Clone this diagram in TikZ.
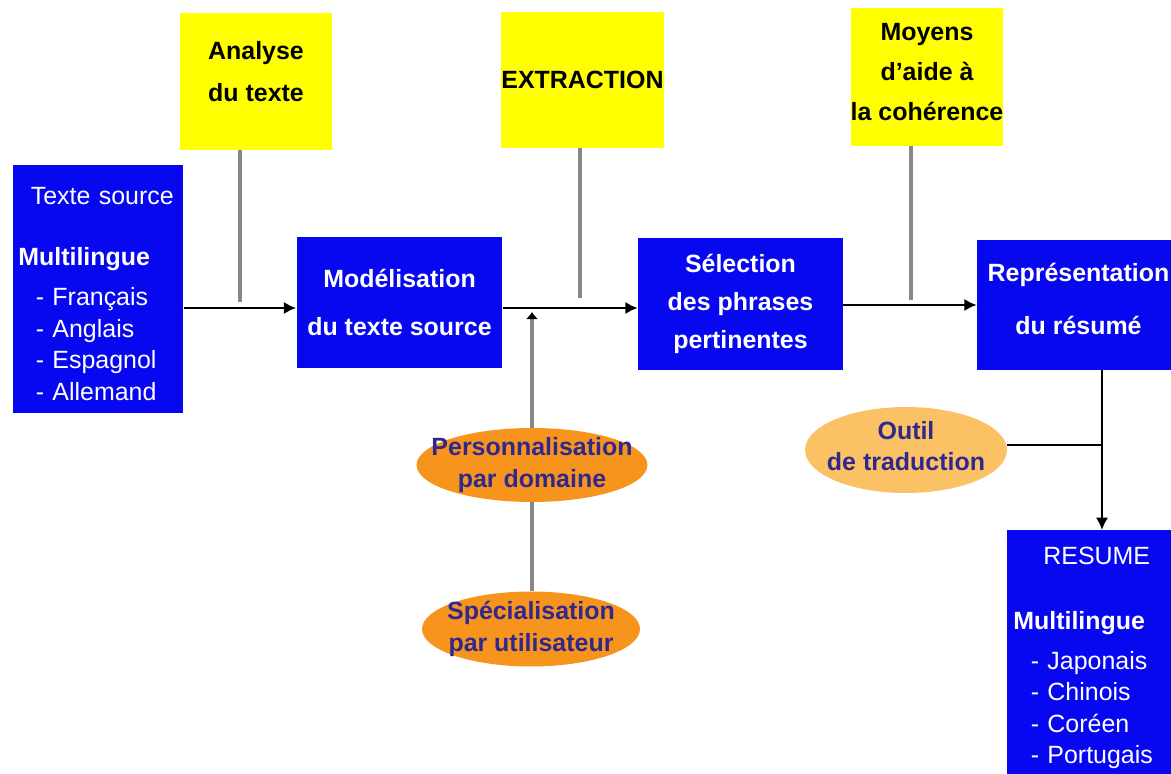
\documentclass[tikz,border=0pt]{standalone}
\usepackage{fontspec}
\setmainfont{Liberation Sans}
\usetikzlibrary{shapes.geometric,arrows.meta}

\definecolor{boxblue}{RGB}{8,8,240}
\definecolor{boxyellow}{RGB}{255,255,0}
\definecolor{ellorange}{RGB}{247,148,30}
\definecolor{elllight}{RGB}{250,194,100}
\definecolor{elltext}{RGB}{48,40,140}
\definecolor{linegray}{RGB}{135,135,135}

\newcommand{\diagfont}{\fontsize{14.2}{18}\selectfont}

\tikzset{
  bluebox/.style={fill=boxblue, text=white, inner sep=0pt, align=center, font=\diagfont\bfseries},
  langbox/.style={fill=boxblue, text=white, inner sep=0pt, align=left, font=\diagfont},
  yellowbox/.style={fill=boxyellow, text=black, inner sep=0pt, align=center, font=\diagfont\bfseries},
  ellbox/.style={ellipse, inner sep=0pt},
  elllabel/.style={text=elltext, align=center, font=\diagfont\bfseries},
  flow/.style={black, line width=1.3pt, -{Latex[length=7pt,width=7pt]}},
  link/.style={linegray, line width=1.8pt},
}

\begin{document}
\begin{tikzpicture}[x=0.02cm, y=-0.02cm]
\useasboundingbox (0,0) rectangle (1171,774);

% les cinq blocs bleus
\node[langbox, anchor=north west, text width=3.2cm, inner xsep=0.1cm,
  text height=0.78cm, text depth=4.18cm] (src) at (13,165)
  {\hspace*{0.25cm}Texte source\\[0.6cm]
   \textbf{Multilingue}\\[0.16cm]
   \hspace*{0.35cm}- Français\\
   \hspace*{0.35cm}- Anglais\\
   \hspace*{0.35cm}- Espagnol\\
   \hspace*{0.35cm}- Allemand};

\node[bluebox, minimum width=4.12cm, minimum height=2.62cm] (model) at (399.5,302.5)
  {Modélisation\\[0.32cm]du texte source};

\node[bluebox, minimum width=4.1cm, minimum height=2.64cm] (select) at (740.5,304)
  {Sélection\\[0.12cm]des phrases\\[0.12cm]pertinentes};

\node[bluebox, minimum width=4.06cm, minimum height=2.6cm, text depth=0.24cm] (repr) at (1078.5,305)
  {Représentation\\[0.42cm]du résumé};

\node[langbox, anchor=north west, text width=3.5cm, inner xsep=0.12cm, inner ysep=0.34cm] (resume) at (1007,530)
  {\hspace*{0.6cm}RESUME\\[0.66cm]
   \textbf{Multilingue}\\[0.16cm]
   \hspace*{0.35cm}- Japonais\\
   \hspace*{0.35cm}- Chinois\\
   \hspace*{0.35cm}- Coréen\\
   \hspace*{0.35cm}- Portugais};

% les blocs jaunes
\node[yellowbox, minimum width=3.04cm, minimum height=2.74cm, text depth=0.4cm] (analyse) at (256,81.5)
  {Analyse\\[0.2cm]du texte};
\node[yellowbox, minimum width=3.02cm, minimum height=2.72cm] (extract) at (582.5,80)
  {EXTRACTION};
\node[yellowbox, minimum width=3.04cm, minimum height=2.76cm, text depth=0.2cm] (moyens) at (927,77)
  {Moyens\\[0.16cm]d'aide à\\[0.16cm]la cohérence};

% les ellipses
\node[ellbox, fill=ellorange, minimum width=4.62cm, minimum height=1.48cm,
  label={[elllabel]center:Personnalisation\\par domaine}] (perso) at (532,465) {};
\node[ellbox, fill=ellorange, minimum width=4.36cm, minimum height=1.5cm,
  label={[elllabel]center:Spécialisation\\par utilisateur}] (special) at (531,629) {};
\node[ellbox, fill=elllight, minimum width=4.04cm, minimum height=1.72cm,
  label={[elllabel, yshift=0.08cm]center:Outil\\de traduction}] (outil) at (906,450) {};

% points de jonction
\coordinate (r1) at (0,308);
\coordinate (r2) at (0,305);
\coordinate (j1) at (240,302);
\coordinate (j2) at (580,298);
\coordinate (j3) at (911,300);
\coordinate (j4) at (532,312);
\coordinate (j5) at (1102,445);

\draw[flow] (src.east |- r1) -- (model.west |- r1);
\draw[flow] (model.east |- r1) -- (select.west |- r1);
\draw[flow] (select.east |- r2) -- (repr.west |- r2);

\draw[link] (analyse.south -| j1) -- (j1);
\draw[link] (extract.south -| j2) -- (j2);
\draw[link] (moyens.south -| j3) -- (j3);
\draw[link, -{Latex[length=4pt,width=7pt,color=black]}] (perso.north) -- (j4);
\draw[link] (perso.south) -- (special.north -| perso.south);

\draw[black, line width=1.3pt] (outil.east |- j5) -- (j5);
\draw[flow] (repr.south -| j5) -- (resume.north -| j5);

\end{tikzpicture}
\end{document}
